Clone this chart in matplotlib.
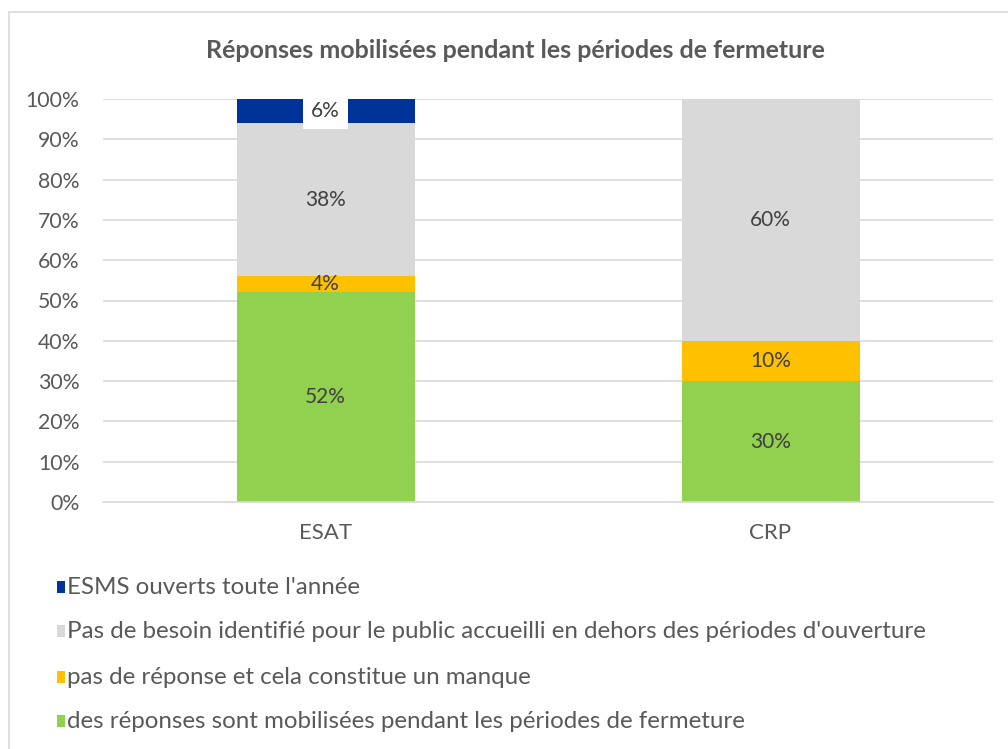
import matplotlib
matplotlib.use("Agg")
import matplotlib.pyplot as plt
from matplotlib.patches import Rectangle

categories = ["ESAT", "CRP"]
series_names = [
    "des réponses sont mobilisées pendant les périodes de fermeture",
    "pas de réponse et cela constitue un manque",
    "Pas de besoin identifié pour le public accueilli en dehors des périodes d'ouverture",
    "ESMS ouverts toute l'année",
]
green_vals = [52, 30]
orange_vals = [4, 10]
grey_vals = [38, 60]
blue_vals = [6, 0]
colors = ["#92D050", "#FFC000", "#D9D9D9", "#003399"]
title = "Réponses mobilisées pendant les périodes de fermeture"

plt.rcParams['font.family'] = ['Lato', 'DejaVu Sans']
txt = "#595959"
lbl = "#404040"

fig = plt.figure(figsize=(10.08, 7.49), dpi=100)
W, H = 1008, 749
ax = fig.add_axes([103 / W, 1 - 502 / H, (993 - 103) / W, (502 - 99) / H])

series = [green_vals, orange_vals, grey_vals, blue_vals]
x = list(range(len(categories)))
bottoms = [0] * len(categories)
for vals, col, name in zip(series, colors, series_names):
    ax.bar(x, vals, bottom=bottoms, width=0.4, color=col, label=name, zorder=2)
    for i, (b, v) in enumerate(zip(bottoms, vals)):
        if v > 0:
            kw = {}
            if col == "#003399":
                kw = dict(bbox=dict(facecolor="white", edgecolor="none", pad=6))
            ax.text(x[i], b + v / 2, f"{v}%", ha="center", va="center",
                    fontsize=15, color=lbl, zorder=3, **kw)
    bottoms = [b + v for b, v in zip(bottoms, vals)]

ax.set_xlim(-0.5, 1.5)
ax.set_ylim(0, 100)
ax.set_yticks(range(0, 101, 10))
ax.set_yticklabels([f"{t}%" for t in range(0, 101, 10)])
ax.set_xticks(x)
ax.set_xticklabels(categories)
ax.tick_params(axis="y", length=0, labelsize=15.3, colors=txt, pad=17)
ax.tick_params(axis="x", length=0, labelsize=16, colors=txt, pad=15)
ax.grid(axis="y", color="#D9D9D9", linewidth=1.2, zorder=0)
for s in ["top", "right", "left"]:
    ax.spines[s].set_visible(False)
ax.spines["bottom"].set_color("#D9D9D9")
ax.spines["bottom"].set_linewidth(1.2)

fig.text(515 / W, 1 - 50 / H, title, ha="center", va="center",
         fontsize=18, fontweight="bold", color=txt)

# chart border (left & top visible)
fig.patches.append(Rectangle((9 / W, -0.1), 1.2, 1 - 12 / H + 0.1,
                             transform=fig.transFigure, fill=False,
                             edgecolor="#D9D9D9", linewidth=1.2))

# legend
leg_y = [587, 631, 677, 721]
order = [3, 2, 1, 0]
for yy, idx in zip(leg_y, order):
    fig.patches.append(Rectangle((57 / W, 1 - (yy + 6) / H), 8 / W, 12 / H,
                                 transform=fig.transFigure,
                                 facecolor=colors[idx], edgecolor="none"))
    fig.text(67 / W, 1 - yy / H, series_names[idx], ha="left", va="center",
             fontsize=17.35, color=txt)

fig.savefig("out.png", dpi=100)
